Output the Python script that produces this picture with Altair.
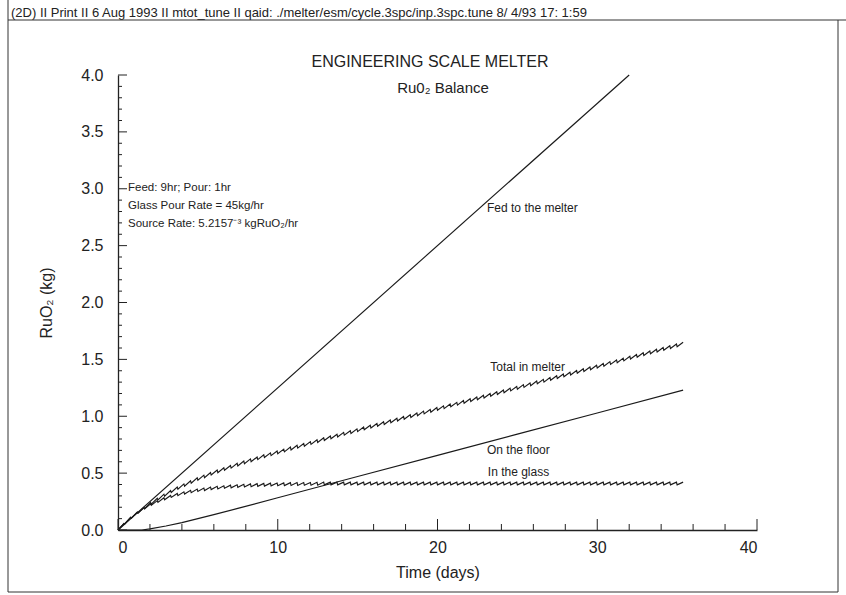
import altair as alt
import pandas as pd

# ---------------- data ----------------
fed_day = [0.0, 32.0]
fed_kg = [0.0, 4.0]

floor_day = [0.0, 1.5, 2.0, 3.0, 4.0, 5.0, 6.0, 7.5, 10.0, 15.0, 20.0, 25.0, 30.0, 35.375]
floor_kg = [0.0, 0.0, 0.01, 0.035, 0.065, 0.10, 0.135, 0.19, 0.283, 0.47, 0.656, 0.843, 1.029, 1.23]

# end of each 9-hr feed (peak) and end of each 1-hr pour (trough), in hours
peak_hours = [9, 19, 29, 39, 49, 59, 69, 79, 89, 99,
              109, 119, 129, 139, 149, 159, 169, 179, 189, 199,
              209, 219, 229, 239, 249, 259, 269, 279, 289, 299,
              309, 319, 329, 339, 349, 359, 369, 379, 389, 399,
              409, 419, 429, 439, 449, 459, 469, 479, 489, 499,
              509, 519, 529, 539, 549, 559, 569, 579, 589, 599,
              609, 619, 629, 639, 649, 659, 669, 679, 689, 699,
              709, 719, 729, 739, 749, 759, 769, 779, 789, 799,
              809, 819, 829, 839, 849]
pour_hours = [10, 20, 30, 40, 50, 60, 70, 80, 90, 100,
              110, 120, 130, 140, 150, 160, 170, 180, 190, 200,
              210, 220, 230, 240, 250, 260, 270, 280, 290, 300,
              310, 320, 330, 340, 350, 360, 370, 380, 390, 400,
              410, 420, 430, 440, 450, 460, 470, 480, 490, 500,
              510, 520, 530, 540, 550, 560, 570, 580, 590, 600,
              610, 620, 630, 640, 650, 660, 670, 680, 690, 700,
              710, 720, 730, 740, 750, 760, 770, 780, 790, 800,
              810, 820, 830, 840]

glass_peak = [0.057, 0.111, 0.157, 0.196, 0.230, 0.258, 0.283, 0.303, 0.321, 0.336,
              0.349, 0.360, 0.369, 0.377, 0.384, 0.389, 0.394, 0.398, 0.402, 0.405,
              0.407, 0.410, 0.412, 0.413, 0.414, 0.416, 0.417, 0.417, 0.418, 0.419,
              0.421, 0.421, 0.421, 0.421, 0.421, 0.421, 0.421, 0.421, 0.421, 0.421,
              0.421, 0.421, 0.421, 0.421, 0.421, 0.421, 0.421, 0.421, 0.421, 0.421,
              0.421, 0.421, 0.421, 0.421, 0.421, 0.421, 0.421, 0.421, 0.421, 0.421,
              0.421, 0.421, 0.421, 0.421, 0.421, 0.421, 0.421, 0.421, 0.421, 0.421,
              0.421, 0.421, 0.421, 0.421, 0.421, 0.421, 0.421, 0.421, 0.421, 0.421,
              0.421, 0.421, 0.421, 0.421, 0.421]
glass_trough = [0.053, 0.104, 0.148, 0.185, 0.216, 0.243, 0.266, 0.286, 0.302, 0.316,
                0.328, 0.339, 0.347, 0.355, 0.361, 0.367, 0.371, 0.375, 0.378, 0.381,
                0.384, 0.386, 0.388, 0.389, 0.390, 0.391, 0.392, 0.393, 0.394, 0.394,
                0.397, 0.397, 0.397, 0.397, 0.397, 0.397, 0.397, 0.397, 0.397, 0.397,
                0.397, 0.397, 0.397, 0.397, 0.397, 0.397, 0.397, 0.397, 0.397, 0.397,
                0.397, 0.397, 0.397, 0.397, 0.397, 0.397, 0.397, 0.397, 0.397, 0.397,
                0.397, 0.397, 0.397, 0.397, 0.397, 0.397, 0.397, 0.397, 0.397, 0.397,
                0.397, 0.397, 0.397, 0.397, 0.397, 0.397, 0.397, 0.397, 0.397, 0.397,
                0.397, 0.397, 0.397, 0.397]

total_peak = [0.057, 0.111, 0.157, 0.199, 0.241, 0.279, 0.315, 0.347, 0.377, 0.405,
              0.433, 0.459, 0.482, 0.505, 0.527, 0.547, 0.567, 0.586, 0.606, 0.625,
              0.642, 0.661, 0.678, 0.695, 0.711, 0.729, 0.745, 0.761, 0.777, 0.794,
              0.811, 0.827, 0.842, 0.858, 0.873, 0.889, 0.905, 0.920, 0.936, 0.951,
              0.967, 0.982, 0.998, 1.013, 1.029, 1.045, 1.060, 1.076, 1.091, 1.107,
              1.122, 1.138, 1.153, 1.169, 1.184, 1.200, 1.216, 1.231, 1.247, 1.262,
              1.278, 1.293, 1.309, 1.324, 1.340, 1.356, 1.371, 1.387, 1.402, 1.418,
              1.433, 1.449, 1.464, 1.480, 1.495, 1.511, 1.527, 1.542, 1.558, 1.573,
              1.589, 1.604, 1.620, 1.635, 1.651]
total_trough = [0.053, 0.104, 0.148, 0.188, 0.227, 0.264, 0.298, 0.330, 0.358, 0.385,
                0.412, 0.438, 0.460, 0.483, 0.504, 0.525, 0.544, 0.563, 0.582, 0.601,
                0.619, 0.637, 0.654, 0.671, 0.687, 0.704, 0.720, 0.737, 0.753, 0.769,
                0.787, 0.803, 0.818, 0.834, 0.849, 0.865, 0.881, 0.896, 0.912, 0.927,
                0.943, 0.958, 0.974, 0.989, 1.005, 1.021, 1.036, 1.052, 1.067, 1.083,
                1.098, 1.114, 1.129, 1.145, 1.160, 1.176, 1.192, 1.207, 1.223, 1.238,
                1.254, 1.269, 1.285, 1.300, 1.316, 1.332, 1.347, 1.363, 1.378, 1.394,
                1.409, 1.425, 1.440, 1.456, 1.471, 1.487, 1.503, 1.518, 1.534, 1.549,
                1.565, 1.580, 1.596, 1.611]

label_text = ["Fed to the melter", "Total in melter", "On the floor", "In the glass"]
label_day = [23.1, 23.3, 23.1, 23.15]
label_kg = [2.83, 1.43, 0.70, 0.51]

x_labels = [0, 10, 20, 30, 40]
x_minor = [2, 4, 6, 8, 12, 14, 16, 18, 22, 24, 26, 28, 32, 34, 36, 38]
y_labels = [0.0, 0.5, 1.0, 1.5, 2.0, 2.5, 3.0, 3.5, 4.0]
y_minor = [round(i * 0.1, 1) for i in range(41) if i % 5 != 0]

header = ("(2D) II  Print II   6 Aug 1993 II  mtot_tune  II qaid:  ./melter/esm/cycle.3spc/"
          "inp.3spc.tune  8/ 4/93  17: 1:59")
notes = ["Feed: 9hr; Pour: 1hr", "Glass Pour Rate = 45kg/hr", "Source Rate: 5.2157\u207b\u00b3 kgRuO\u2082/hr"]

# ---------------- table ----------------
rows = []
def add(series, days, vals):
    for i, (d, v) in enumerate(zip(days, vals)):
        rows.append({"series": series, "day": d, "kg": v, "o": i})

add("fed", fed_day, fed_kg)
add("floor", floor_day, floor_kg)

def saw(peaks, troughs):
    d, v = [0.0], [0.0]
    for k in range(len(peaks)):
        d.append(peak_hours[k] / 24.0)
        v.append(peaks[k])
        if k < len(troughs):
            d.append(pour_hours[k] / 24.0)
            v.append(troughs[k])
    return d, v

gd, gv = saw(glass_peak, glass_trough)
add("glass", gd, gv)
td, tv = saw(total_peak, total_trough)
add("total", td, tv)
df = pd.DataFrame(rows)

FONT = "Liberation Sans"
INK = "#222"
W, H = 639, 455
xs = alt.Scale(domain=[0, 40], nice=False, zero=False)
ys = alt.Scale(domain=[0, 4], nice=False, zero=False)

lines = alt.Chart(df).mark_line(color="#1a1a1a", strokeWidth=1.15).encode(
    x=alt.X("day:Q", scale=xs, title="Time (days)",
            axis=alt.Axis(values=x_labels, format="d", ticks=False, domainColor=INK,
                          domainWidth=1.3, labelFontSize=16, labelFont=FONT, labelColor=INK,
                          labelPadding=9, titleFont=FONT, titleFontSize=16,
                          titleFontWeight="normal", titleColor=INK, titlePadding=9, grid=False)),
    y=alt.Y("kg:Q", scale=ys, title="RuO\u2082 (kg)",
            axis=alt.Axis(values=y_labels, format=".1f", ticks=False, domainColor=INK,
                          domainWidth=1.3, labelFontSize=16, labelFont=FONT, labelColor=INK,
                          labelPadding=15, titleFont=FONT, titleFontSize=16,
                          titleFontWeight="normal", titleColor=INK, titlePadding=26, grid=False)),
    detail="series:N",
    order="o:Q",
)

def ticks_y(vals, length):
    return alt.Chart(pd.DataFrame({"kg": vals})).mark_rule(color=INK, strokeWidth=1).encode(
        y=alt.Y("kg:Q", scale=ys), x=alt.value(0), x2=alt.value(length))

def ticks_x(vals, length):
    return alt.Chart(pd.DataFrame({"day": vals})).mark_rule(color=INK, strokeWidth=1).encode(
        x=alt.X("day:Q", scale=xs), y=alt.value(H), y2=alt.value(H - length))

labels = alt.Chart(pd.DataFrame({"day": label_day, "kg": label_kg, "t": label_text})).mark_text(
    align="left", baseline="middle", font=FONT, fontSize=12, color=INK).encode(
    x=alt.X("day:Q", scale=xs), y=alt.Y("kg:Q", scale=ys), text="t:N")

one = pd.DataFrame({"a": [0]})

def txt(t, px, py, size, align="left"):
    return alt.Chart(one).mark_text(align=align, baseline="middle", font=FONT, fontSize=size,
                                    color=INK).encode(
        x=alt.value(px), y=alt.value(py), text=alt.value(t))

def rule(x1, x2, y1, y2, w=1.0):
    return alt.Chart(one).mark_rule(color="#333", strokeWidth=w).encode(
        x=alt.value(x1), x2=alt.value(x2), y=alt.value(y1), y2=alt.value(y2))

texts = [
    txt("ENGINEERING SCALE MELTER", 312, -13, 16, "center"),
    txt("Ru0\u2082 Balance", 325, 13, 15, "center"),
    txt(header, -107, -62, 13),
    txt(notes[0], 10, 113, 11.5),
    txt(notes[1], 10, 131, 11.5),
    txt(notes[2], 10, 149, 11.5),
]

frame = [
    rule(-110, 728, -55, -55),
    rule(-110, -110, -75, 517),
    rule(-110, 720, 517, 517),
    rule(720, 720, -55, 517),
]

chart = alt.layer(
    lines,
    ticks_y(y_labels, 9), ticks_y(y_minor, 4),
    ticks_x(x_labels, 11), ticks_x(x_minor, 6),
    labels, *texts, *frame,
).properties(
    width=W, height=H,
    autosize=alt.AutoSizeParams(type="none"),
    padding={"left": 118, "top": 75, "right": 89, "bottom": 65},
).configure(background="white").configure_view(stroke=None)

chart.save("out.html", embed_options={"renderer": "svg", "actions": False})
